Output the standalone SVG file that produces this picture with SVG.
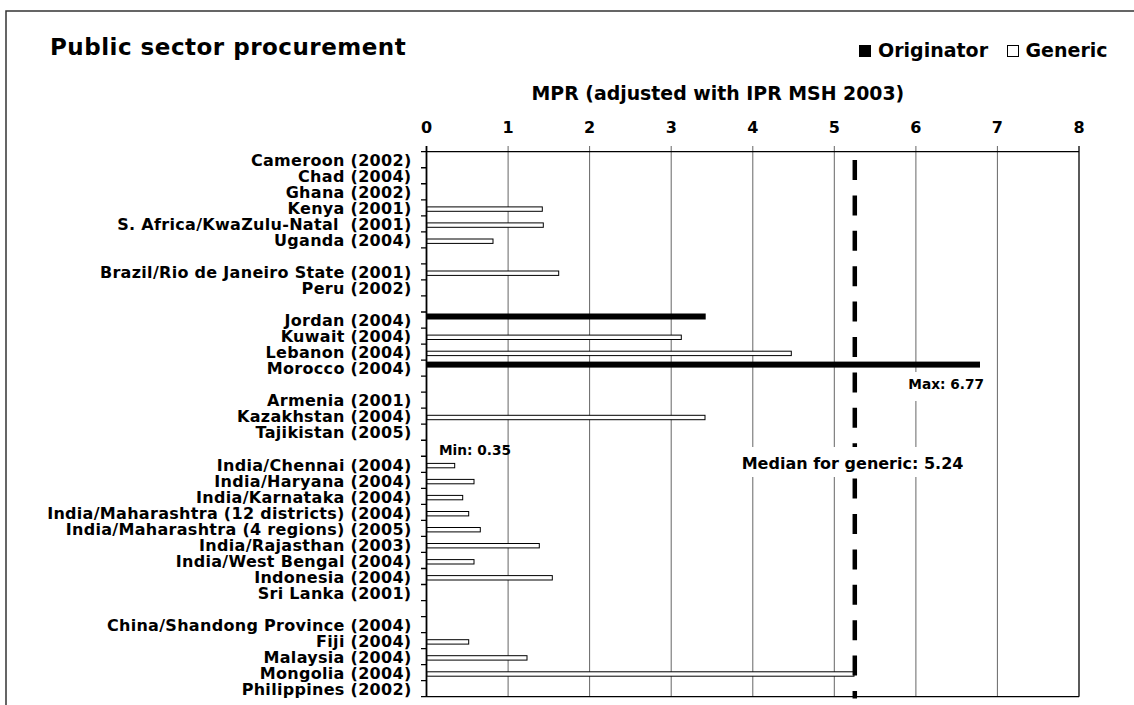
<svg xmlns="http://www.w3.org/2000/svg" width="1134" height="705" viewBox="0 0 1134 705">
<style>
text{font-family:"DejaVu Sans","Liberation Sans",sans-serif;font-weight:bold;fill:#000}
.lab{font-size:16px;letter-spacing:0.3px;text-anchor:end}
.tick{font-size:16px;text-anchor:middle}
.grid{stroke:#666;stroke-width:1}
.ax{stroke:#000;stroke-width:1.3}
.gen{fill:#fff;stroke:#000;stroke-width:1}
.org{fill:#000}
.small{font-size:13.7px}
</style>
<rect width="1134" height="705" fill="#fff"/>
<g id="frame" fill="none" stroke="#333" stroke-width="1.5">
<path d="M6,705 V11 H1134"/>
</g>
<g id="title"><text x="50" y="55" style="font-size:23px;letter-spacing:0.5px">Public sector procurement</text></g>
<g id="legend">
<rect x="859" y="45" width="12" height="12" class="org"/>
<text x="878" y="57" style="font-size:19px">Originator</text>
<rect x="1007.5" y="45.5" width="11" height="11" class="gen"/>
<text x="1025.5" y="57" style="font-size:19px">Generic</text>
</g>
<g id="axis-title"><text x="531.5" y="100" style="font-size:18.9px">MPR (adjusted with IPR MSH 2003)</text></g>
<g id="x-ticks">
<text class="tick" x="426.5" y="133">0</text>
<text class="tick" x="508.1" y="133">1</text>
<text class="tick" x="589.6" y="133">2</text>
<text class="tick" x="671.2" y="133">3</text>
<text class="tick" x="752.8" y="133">4</text>
<text class="tick" x="834.3" y="133">5</text>
<text class="tick" x="915.9" y="133">6</text>
<text class="tick" x="997.4" y="133">7</text>
<text class="tick" x="1079" y="133">8</text>
</g>
<g id="grid">
<line class="grid" x1="508.1" y1="146" x2="508.1" y2="697"/>
<line class="grid" x1="589.6" y1="146" x2="589.6" y2="697"/>
<line class="grid" x1="671.2" y1="146" x2="671.2" y2="697"/>
<line class="grid" x1="752.8" y1="146" x2="752.8" y2="697"/>
<line class="grid" x1="834.3" y1="146" x2="834.3" y2="697"/>
<line class="grid" x1="915.9" y1="146" x2="915.9" y2="697"/>
<line class="grid" x1="997.4" y1="146" x2="997.4" y2="697"/>
</g>
<g id="axes">
<line class="ax" x1="426.5" y1="151.7" x2="1079" y2="151.7"/>
<line class="ax" x1="426.5" y1="696.7" x2="1079" y2="696.7"/>
<line class="ax" x1="1079" y1="146" x2="1079" y2="696.7"/>
<line class="ax" x1="426.5" y1="146" x2="426.5" y2="697" style="stroke-width:1.8"/>
<path class="ax" d="M421,151.7H426.5M421,167.73H426.5M421,183.76H426.5M421,199.79H426.5M421,215.82H426.5M421,231.85H426.5M421,247.88H426.5M421,263.91H426.5M421,279.94H426.5M421,295.97H426.5M421,312H426.5M421,328.03H426.5M421,344.06H426.5M421,360.09H426.5M421,376.12H426.5M421,392.15H426.5M421,408.18H426.5M421,424.21H426.5M421,440.24H426.5M421,456.27H426.5M421,472.3H426.5M421,488.33H426.5M421,504.36H426.5M421,520.39H426.5M421,536.42H426.5M421,552.45H426.5M421,568.48H426.5M421,584.51H426.5M421,600.54H426.5M421,616.57H426.5M421,632.6H426.5M421,648.63H426.5M421,664.66H426.5M421,680.69H426.5M421,696.72H426.5"/>
</g>
<g id="labels">
<text class="lab" x="411.5" y="165.9">Cameroon (2002)</text>
<text class="lab" x="411.5" y="181.9">Chad (2004)</text>
<text class="lab" x="411.5" y="198">Ghana (2002)</text>
<text class="lab" x="411.5" y="214">Kenya (2001)</text>
<text class="lab" x="411.5" y="230" xml:space="preserve">S. Africa/KwaZulu-Natal  (2001)</text>
<text class="lab" x="411.5" y="246.1">Uganda (2004)</text>
<text class="lab" x="411.5" y="278.1">Brazil/Rio de Janeiro State (2001)</text>
<text class="lab" x="411.5" y="294.1">Peru (2002)</text>
<text class="lab" x="411.5" y="326.2">Jordan (2004)</text>
<text class="lab" x="411.5" y="342.2">Kuwait (2004)</text>
<text class="lab" x="411.5" y="358.3">Lebanon (2004)</text>
<text class="lab" x="411.5" y="374.3">Morocco (2004)</text>
<text class="lab" x="411.5" y="406.4">Armenia (2001)</text>
<text class="lab" x="411.5" y="422.4">Kazakhstan (2004)</text>
<text class="lab" x="411.5" y="438.4">Tajikistan (2005)</text>
<text class="lab" x="411.5" y="470.5">India/Chennai (2004)</text>
<text class="lab" x="411.5" y="486.5">India/Haryana (2004)</text>
<text class="lab" x="411.5" y="502.5">India/Karnataka (2004)</text>
<text class="lab" x="411.5" y="518.6">India/Maharashtra (12 districts) (2004)</text>
<text class="lab" x="411.5" y="534.6">India/Maharashtra (4 regions) (2005)</text>
<text class="lab" x="411.5" y="550.6">India/Rajasthan (2003)</text>
<text class="lab" x="411.5" y="566.7">India/West Bengal (2004)</text>
<text class="lab" x="411.5" y="582.7">Indonesia (2004)</text>
<text class="lab" x="411.5" y="598.7">Sri Lanka (2001)</text>
<text class="lab" x="411.5" y="630.8">China/Shandong Province (2004)</text>
<text class="lab" x="411.5" y="646.8">Fiji (2004)</text>
<text class="lab" x="411.5" y="662.8">Malaysia (2004)</text>
<text class="lab" x="411.5" y="678.9">Mongolia (2004)</text>
<text class="lab" x="411.5" y="694.9">Philippines (2002)</text>
</g>
<g id="bars">
<rect class="gen" x="427" y="206.9" width="115.3" height="4.4"/>
<rect class="gen" x="427" y="222.9" width="116.3" height="4.4"/>
<rect class="gen" x="427" y="239" width="66" height="4.4"/>
<rect class="gen" x="427" y="271" width="131.7" height="4.4"/>
<rect class="org" x="427" y="313.5" width="278.7" height="6"/>
<rect class="gen" x="427" y="335.1" width="254.3" height="4.4"/>
<rect class="gen" x="427" y="351.2" width="364.3" height="4.4"/>
<rect class="org" x="427" y="361.6" width="553" height="6"/>
<rect class="gen" x="427" y="415.3" width="278" height="4.4"/>
<rect class="gen" x="427" y="463.4" width="27.7" height="4.4"/>
<rect class="gen" x="427" y="479.4" width="47" height="4.4"/>
<rect class="gen" x="427" y="495.4" width="35.7" height="4.4"/>
<rect class="gen" x="427" y="511.5" width="41.7" height="4.4"/>
<rect class="gen" x="427" y="527.5" width="53.3" height="4.4"/>
<rect class="gen" x="427" y="543.5" width="112.3" height="4.4"/>
<rect class="gen" x="427" y="559.6" width="47" height="4.4"/>
<rect class="gen" x="427" y="575.6" width="125.3" height="4.4"/>
<rect class="gen" x="427" y="639.7" width="41.7" height="4.4"/>
<rect class="gen" x="427" y="655.7" width="100" height="4.4"/>
<rect class="gen" x="427" y="671.8" width="427" height="4.4"/>
</g>
<g id="median">
<line x1="854.8" y1="160" x2="854.8" y2="698.5" stroke="#000" stroke-width="4.5" stroke-dasharray="20 15.4"/>
</g>
<g id="max-label">
<rect x="905" y="372" width="84" height="29" fill="#fff"/>
<text class="small" x="908.3" y="389.3">Max: 6.77</text>
</g>
<g id="median-label">
<rect x="738" y="447" width="228" height="30" fill="#fff"/>
<text x="741.7" y="469" style="font-size:16px">Median for generic: 5.24</text>
</g>
<g id="min-label">
<text class="small" x="439" y="455">Min: 0.35</text>
</g>
</svg>
